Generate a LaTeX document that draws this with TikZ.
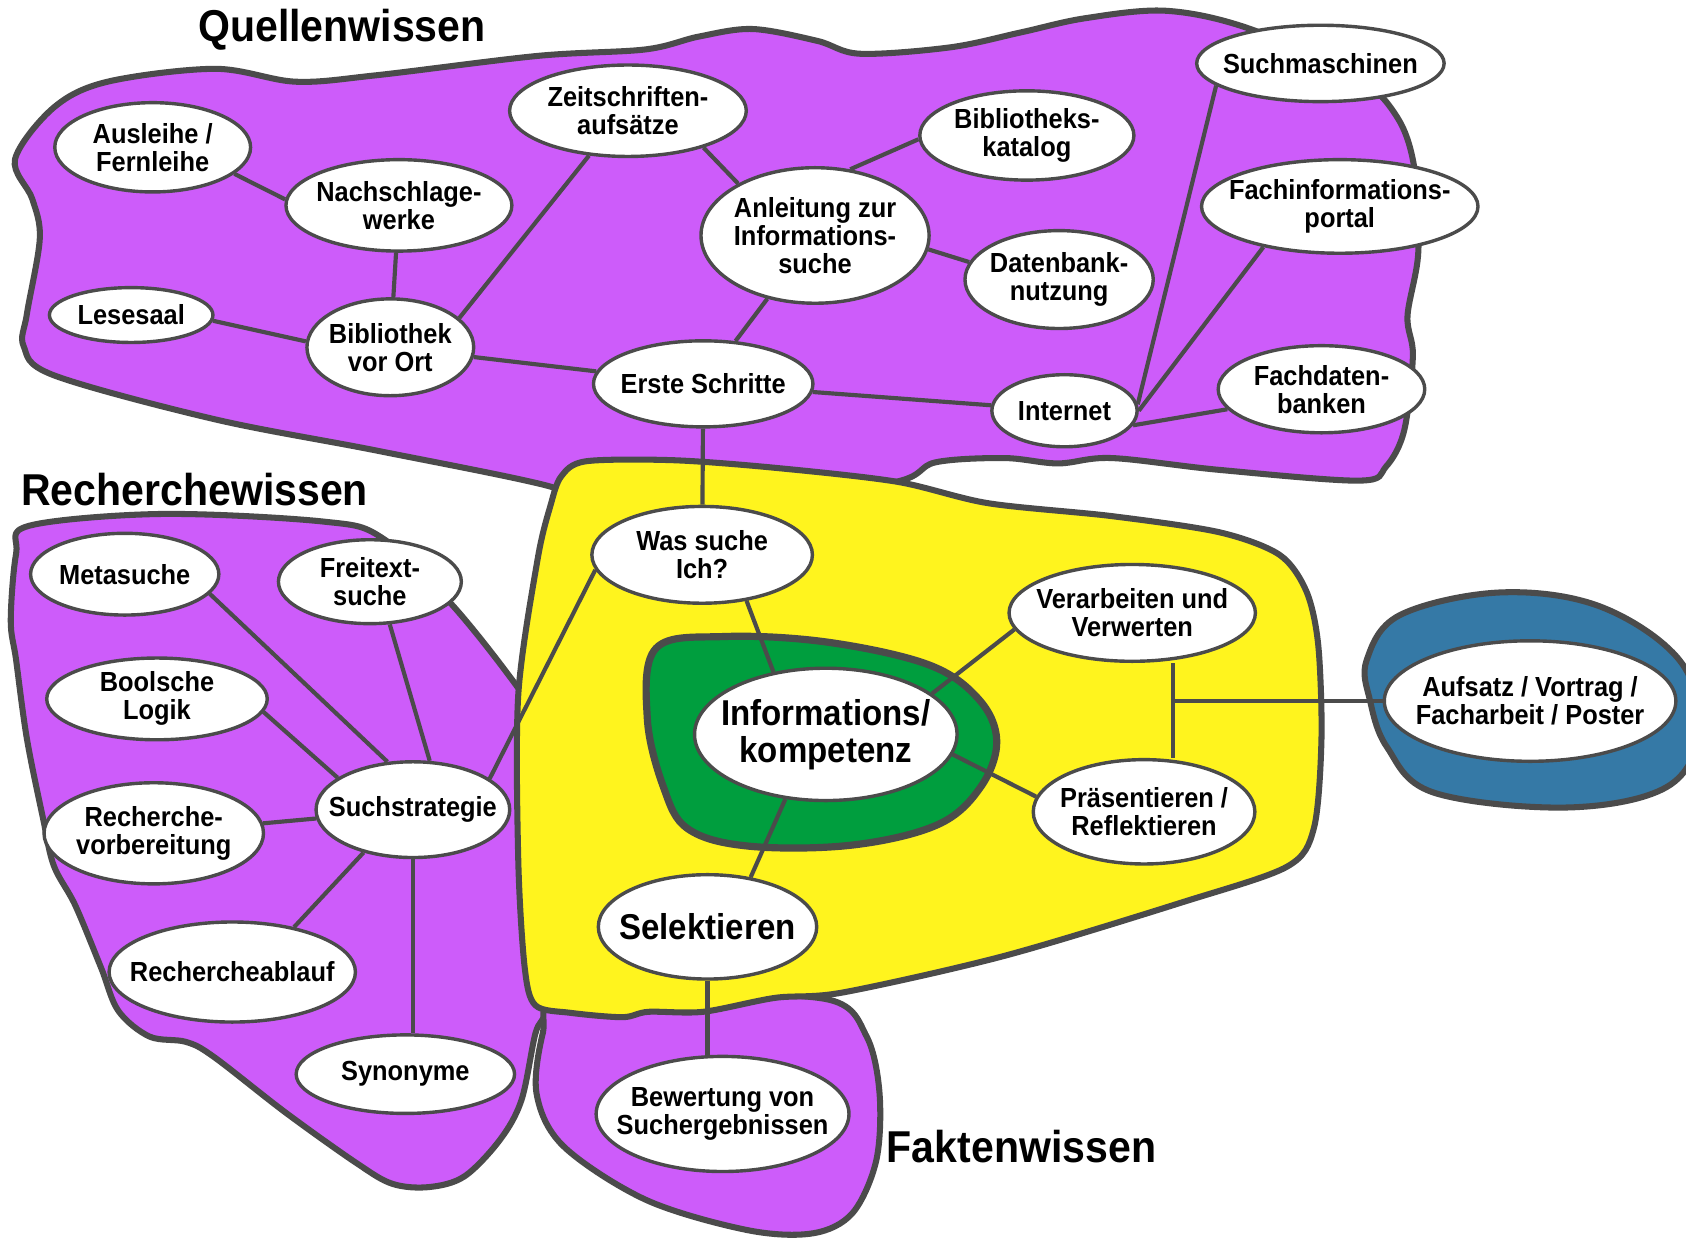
\documentclass[tikz,border=0pt]{standalone}
\usepackage{fontspec}
\setmainfont{Liberation Sans}
\newfontfamily\mapfont[FakeStretch=0.92]{Liberation Sans}
\usetikzlibrary{shapes.geometric}
\definecolor{lila}{HTML}{CD5CFA}
\definecolor{gelb}{HTML}{FFF41E}
\definecolor{gruen}{HTML}{009E3E}
\definecolor{blau}{HTML}{3579A6}
\definecolor{rand}{HTML}{4B4B4B}

\begin{document}
\begin{tikzpicture}[x=0.01cm, y=-0.01cm]

      \tikzset{bubble/.style={draw=rand, ellipse, line width=0.9pt, fill=white, inner xsep=-1cm, inner ysep=-0.4cm, align=center, font=\mapfont\bfseries\fontsize{7.3}{7.4}\selectfont},
               bigbubble/.style={bubble, font=\mapfont\bfseries\fontsize{9.5}{9.8}\selectfont},
               area/.style={draw=rand, line width=1.6pt, line join=round},
               areatitle/.style={inner sep=0pt, font=\mapfont\bfseries\fontsize{11.8}{12}\selectfont},
               every edge/.append style={draw=rand, line width=1.1pt}}
      \useasboundingbox (0,0) rectangle (1568,1152);
%% Areas
      \filldraw[area, fill=lila] plot[smooth cycle, tension=0.55] coordinates {(14,148) (50,100) (100,76) (200,64) (275,76) (350,70) (500,52) (600,46) (650,34) (700,27) (760,38) (800,50) (884,44) (950,30) (1009,17) (1084,10) (1160,26) (1260,70) (1300,110) (1316,160) (1319,235) (1309,294) (1314,331) (1306,400) (1289,434) (1264,447) (1134,437) (1034,426) (984,431) (934,426) (870,430) (834,448) (700,470) (540,470) (510,452) (350,419) (200,390) (50,349) (22,322) (25,292) (37,222) (30,185)};
      \filldraw[area, fill=lila] plot[smooth cycle, tension=0.55] coordinates {(27,489) (150,478) (300,485) (355,500) (420,562) (482,640) (520,700) (520,880) (508,940) (498,961) (485,1023) (465,1060) (432,1094) (399,1104) (365,1101) (332,1082) (266,1035) (199,983) (173,969) (139,964) (110,940) (94,900) (70,842) (50,805) (40,761) (25,687) (15,614) (10,577) (15,515)};
      \filldraw[area, fill=lila] plot[smooth cycle, tension=0.55] coordinates {(520,930) (650,925) (772,930) (806,964) (818,1017) (815,1079) (793,1128) (756,1147) (695,1144) (601,1116) (524,1066) (499,1017) (505,960)};
      \filldraw[area, fill=gelb] plot[smooth cycle, tension=0.5] coordinates {(512,470) (522,443) (545,429) (626,428) (720,435) (834,448) (919,468) (1034,480) (1134,495) (1190,516) (1215,550) (1226,600) (1229,687) (1222,770) (1197,806) (1100,839) (934,889) (784,923) (721,928) (654,941) (603,941) (579,946) (531,942) (498,935) (488,900) (482,800) (482,646) (500,520)};
      \filldraw[area, fill=gruen, line width=1.9pt] plot[smooth cycle, tension=0.6] coordinates {(610,603) (673,592) (768,597) (863,618) (910,650) (927,689) (912,732) (872,767) (792,786) (697,787) (640,771) (617,732) (602,668)};
      \filldraw[area, fill=blau] plot[smooth cycle, tension=0.6] coordinates {(1271,614) (1302,572) (1395,551) (1488,564) (1562,614) (1580,680) (1550,732) (1457,751) (1333,737) (1290,695) (1274,651)};
%% Titles
      \node[areatitle] (quellen) at (318,28) {Quellenwissen};
      \node[areatitle] (recherche) at (181,455) {Recherchewissen};
      \node[areatitle] (fakten) at (950,1066) {Faktenwissen};
%% Vertices
      \node[bubble, minimum width=1.82cm, minimum height=0.83cm] (ausleihe) at (142,137) {Ausleihe /\\Fernleihe};
      \node[bubble, minimum width=2.10cm, minimum height=0.85cm] (nachschlage) at (371,191) {Nachschlage-\\werke};
      \node[bubble, minimum width=2.20cm, minimum height=0.85cm] (zeitschriften) at (584,103) {Zeitschriften-\\aufsätze};
      \node[bubble, minimum width=2.12cm, minimum height=1.26cm] (anleitung) at (758,219) {Anleitung zur\\Informations-\\suche};
      \node[bubble, minimum width=1.99cm, minimum height=0.83cm] (katalog) at (955,126) {Bibliotheks-\\katalog};
      \node[bubble, minimum width=1.75cm, minimum height=0.91cm] (datenbank) at (985,260) {Datenbank-\\nutzung};
      \node[bubble, minimum width=2.30cm, minimum height=0.71cm] (suchmaschinen) at (1228,59) {Suchmaschinen};
      \node[bubble, minimum width=2.57cm, minimum height=0.87cm] (fachinfo) at (1246,192) {Fachinformations-\\portal};
      \node[bubble, minimum width=1.52cm, minimum height=0.51cm] (lesesaal) at (122,293) {Lesesaal};
      \node[bubble, minimum width=1.55cm, minimum height=0.90cm] (bibliothek) at (363,323) {Bibliothek\\vor Ort};
      \node[bubble, minimum width=2.04cm, minimum height=0.80cm] (erste) at (654,357) {Erste Schritte};
      \node[bubble, minimum width=1.35cm, minimum height=0.67cm] (internet) at (990,382) {Internet};
      \node[bubble, minimum width=1.92cm, minimum height=0.81cm] (fachdaten) at (1229,362) {Fachdaten-\\banken};
      \node[bubble, minimum width=1.75cm, minimum height=0.76cm] (metasuche) at (116,534) {Metasuche};
      \node[bubble, minimum width=1.70cm, minimum height=0.78cm] (freitext) at (344,541) {Freitext-\\suche};
      \node[bubble, minimum width=2.05cm, minimum height=0.76cm] (boolsche) at (146,650) {Boolsche\\Logik};
      \node[bubble, minimum width=2.04cm, minimum height=0.94cm] (vorbereitung) at (143,775) {Recherche-\\vorbereitung};
      \node[bubble, minimum width=1.80cm, minimum height=0.89cm] (suchstrategie) at (384,753) {Suchstrategie};
      \node[bubble, minimum width=2.29cm, minimum height=0.93cm] (ablauf) at (216,904) {Rechercheablauf};
      \node[bubble, minimum width=2.03cm, minimum height=0.73cm] (synonyme) at (377,999) {Synonyme};
      \node[bubble, minimum width=2.05cm, minimum height=0.90cm] (wassuche) at (653,516) {Was suche\\Ich?};
      \node[bigbubble, minimum width=2.44cm, minimum height=1.23cm] (infokomp) at (768,683) {Informations/\\kompetenz};
      \node[bigbubble, minimum width=2.03cm, minimum height=0.97cm] (selektieren) at (658,862) {Selektieren};
      \node[bubble, minimum width=2.35cm, minimum height=1.07cm] (bewertung) at (672,1036) {Bewertung von\\Suchergebnissen};
      \node[bubble, minimum width=2.29cm, minimum height=0.90cm] (verarbeiten) at (1053,570) {Verarbeiten und\\Verwerten};
      \node[bubble, minimum width=2.06cm, minimum height=0.97cm] (praesentieren) at (1064,755) {Präsentieren /\\Reflektieren};
      \node[bubble, minimum width=2.71cm, minimum height=1.12cm] (aufsatz) at (1423,652) {Aufsatz / Vortrag /\\Facharbeit / Poster};
      \coordinate (junction) at (1091,652);
%Edges
		\path (ausleihe.-18) edge (nachschlage.177);
		\path (nachschlage) edge (bibliothek);
		\path (lesesaal.-4) edge (bibliothek.176);
		\path (bibliothek.23) edge (zeitschriften.229);
		\path (bibliothek) edge (erste);
		\path (zeitschriften.-26) edge (anleitung.146);
		\path (anleitung.62) edge (katalog.182);
		\path (anleitung.-7) edge (datenbank.169);
		\path (anleitung) edge (erste);
		\path (erste) edge (internet);
		\path (internet.5) edge (suchmaschinen.192);
		\path (internet.0) edge (fachinfo.208);
		\path (internet.-12) edge (fachdaten.192);
		\path (erste) edge (wassuche);
		\path (wassuche.188) edge (suchstrategie.22);
		\path (wassuche.-46) edge (infokomp.130);
		\path (infokomp.238) edge (selektieren.49);
		\path (selektieren.south) edge (selektieren.south |- bewertung.north);
		\path (infokomp.21) edge (verarbeiten.188);
		\path (infokomp.-9) edge (praesentieren.172);
		\path (junction |- verarbeiten.south) edge (junction |- praesentieren.north);
		\path (junction) edge (aufsatz);
		\path (suchstrategie.118) edge (metasuche.-13);
		\path (suchstrategie.71) edge (freitext.-65);
		\path (suchstrategie.157) edge (boolsche.-7);
		\path (suchstrategie) edge (vorbereitung);
		\path (suchstrategie.221) edge (ablauf.36);
		\path (suchstrategie.south) edge (suchstrategie.south |- synonyme.north);

	\end{tikzpicture}
\end{document}
